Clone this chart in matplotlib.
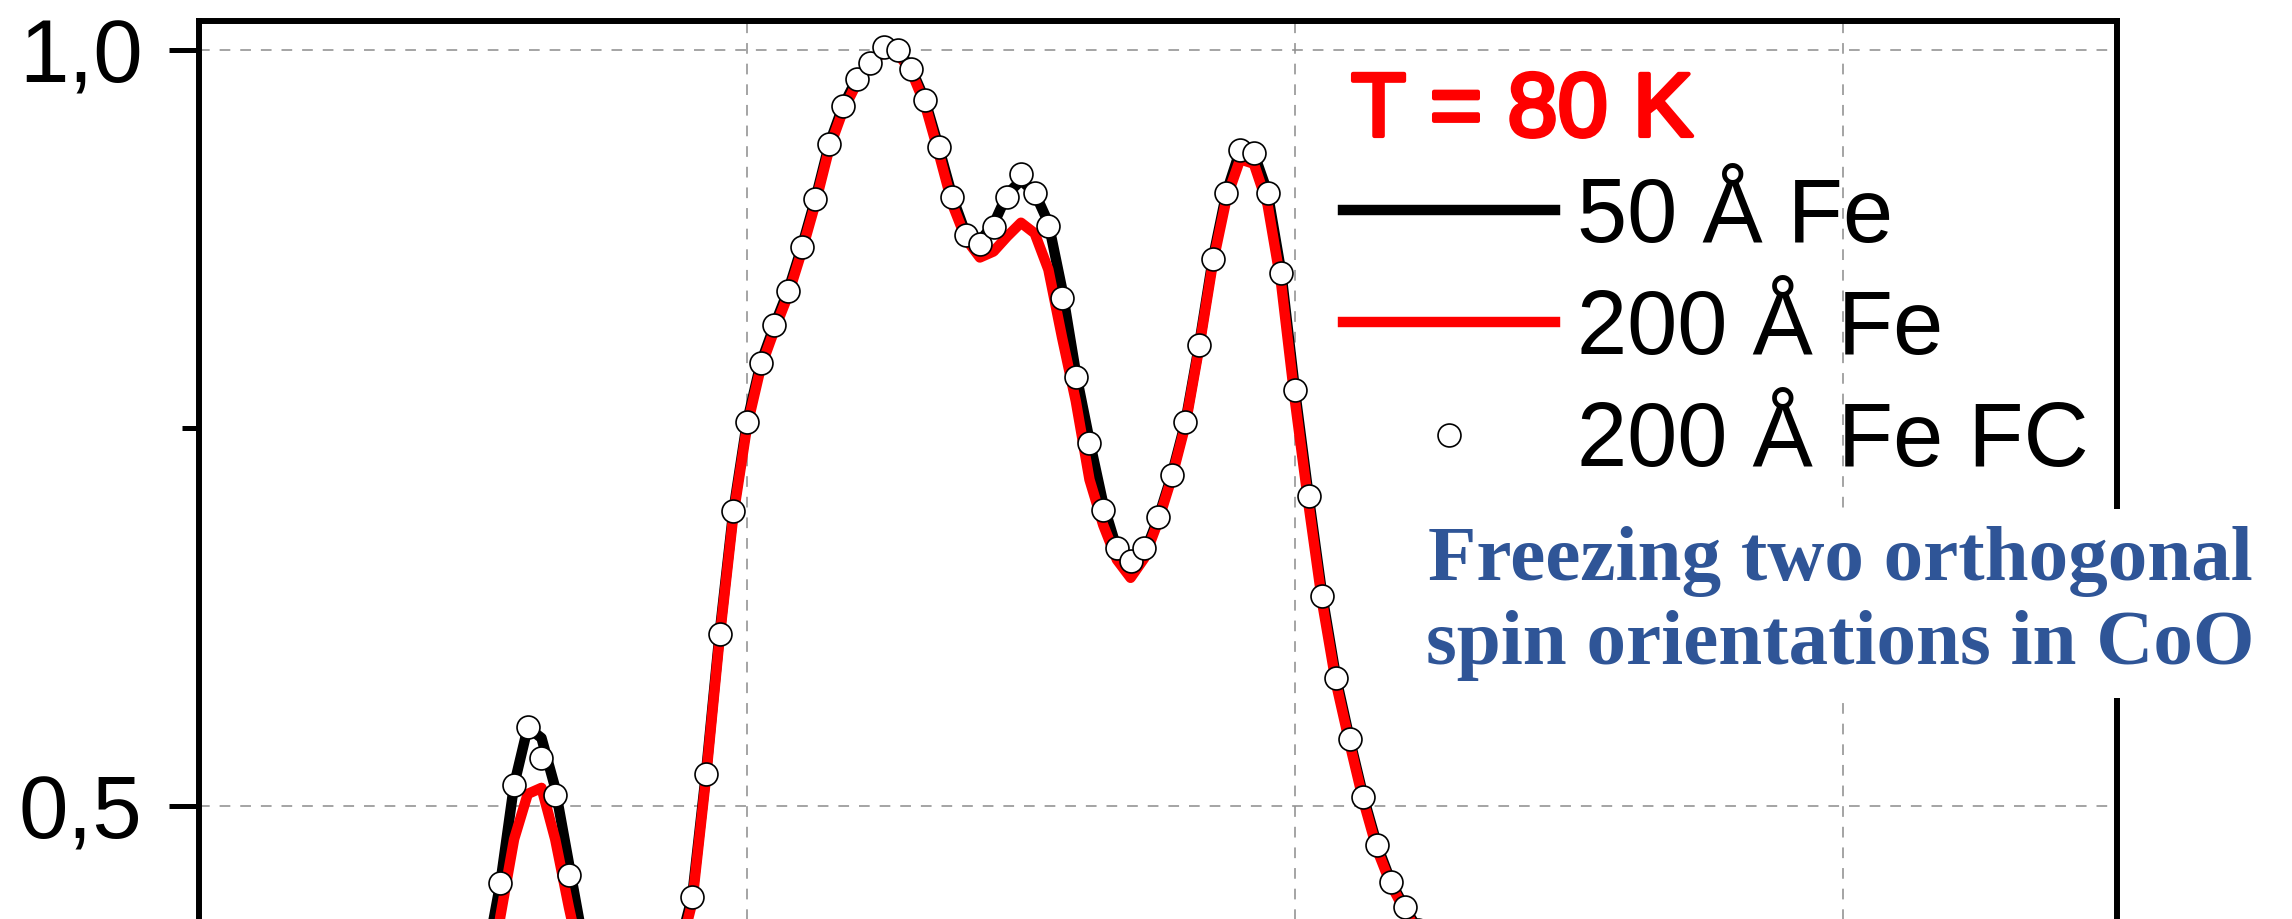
import matplotlib
matplotlib.use('Agg')
import matplotlib.pyplot as plt
import matplotlib.patheffects as pe

plt.rcParams['font.family'] = ['Liberation Sans', 'DejaVu Sans']

# photon energy (eV), 0.05 eV step
energy = [776.00, 776.05, 776.10, 776.15, 776.20, 776.25, 776.30, 776.35, 776.40, 776.45,
          776.50, 776.55, 776.60, 776.65, 776.70, 776.75, 776.80, 776.85, 776.90, 776.95,
          777.00, 777.05, 777.10, 777.15, 777.20, 777.25, 777.30, 777.35, 777.40, 777.45,
          777.50, 777.55, 777.60, 777.65, 777.70, 777.75, 777.80, 777.85, 777.90, 777.95,
          778.00, 778.05, 778.10, 778.15, 778.20, 778.25, 778.30, 778.35, 778.40, 778.45,
          778.50, 778.55, 778.60, 778.65, 778.70, 778.75, 778.80, 778.85, 778.90, 778.95,
          779.00, 779.05, 779.10, 779.15, 779.20, 779.25, 779.30, 779.35, 779.40, 779.45,
          779.50, 779.55]

fe50 = [0.360, 0.400, 0.449, 0.514, 0.552, 0.545, 0.512, 0.462, 0.412, 0.378,
        0.358, 0.348, 0.347, 0.356, 0.377, 0.405, 0.440, 0.521, 0.614, 0.695,
        0.754, 0.793, 0.818, 0.841, 0.870, 0.902, 0.938, 0.963, 0.981, 0.992,
        1.002, 1.000, 0.988, 0.967, 0.936, 0.903, 0.878, 0.874, 0.885, 0.905,
        0.914, 0.906, 0.886, 0.842, 0.787, 0.742, 0.700, 0.670, 0.658, 0.667,
        0.690, 0.719, 0.754, 0.805, 0.862, 0.906, 0.934, 0.932, 0.906, 0.853,
        0.775, 0.705, 0.639, 0.585, 0.544, 0.506, 0.474, 0.450, 0.433, 0.418,
        0.405, 0.394]

fe200 = [0.330, 0.368, 0.427, 0.478, 0.508, 0.512, 0.478, 0.433, 0.392, 0.362,
         0.345, 0.337, 0.338, 0.348, 0.370, 0.400, 0.436, 0.518, 0.611, 0.692,
         0.751, 0.790, 0.815, 0.838, 0.867, 0.899, 0.935, 0.960, 0.978, 0.990,
         1.000, 0.998, 0.986, 0.964, 0.932, 0.898, 0.875, 0.863, 0.867, 0.877,
         0.886, 0.879, 0.855, 0.810, 0.768, 0.716, 0.686, 0.663, 0.651, 0.664,
         0.688, 0.717, 0.752, 0.803, 0.859, 0.902, 0.928, 0.925, 0.898, 0.845,
         0.768, 0.699, 0.634, 0.581, 0.541, 0.503, 0.471, 0.448, 0.431, 0.416,
         0.404, 0.393]

fe200_fc = [0.360, 0.400, 0.449, 0.514, 0.552, 0.532, 0.507, 0.454, 0.410, 0.378,
            0.358, 0.348, 0.347, 0.356, 0.377, 0.405, 0.440, 0.521, 0.614, 0.695,
            0.754, 0.793, 0.818, 0.841, 0.870, 0.902, 0.938, 0.963, 0.981, 0.992,
            1.002, 1.000, 0.988, 0.967, 0.936, 0.903, 0.878, 0.872, 0.883, 0.903,
            0.918, 0.906, 0.884, 0.836, 0.784, 0.740, 0.696, 0.671, 0.662, 0.671,
            0.691, 0.719, 0.754, 0.805, 0.862, 0.906, 0.934, 0.932, 0.906, 0.853,
            0.775, 0.705, 0.639, 0.585, 0.544, 0.506, 0.474, 0.450, 0.433, 0.418,
            0.405, 0.394]

labels = ['50 Å Fe', '200 Å Fe', '200 Å Fe FC']
y_ticks = [0.5, 1.0]
y_ticklabels = ['0,5', '1,0']

fig = plt.figure(figsize=(22.92, 9.19), dpi=100)
# the picture is a crop: axes run below the bottom edge of the figure
ax = fig.add_axes([0.08682, -0.20587, 0.83682, 1.18335])

l1, = ax.plot(energy, fe50, color='black', lw=7.5, zorder=3, label=labels[0])
l2, = ax.plot(energy, fe200, color='red', lw=7.5, zorder=4, label=labels[1])
l3, = ax.plot(energy, fe200_fc, ls='none', marker='o', ms=16.5, mfc='white', mec='black',
              mew=1.2, zorder=5, label=labels[2])

ax.set_xlim(775, 782)
ax.set_ylim(0.30, 1.0197)
ax.set_xticks([777, 779, 781])
ax.set_yticks(y_ticks)
ax.set_yticklabels(y_ticklabels)
ax.set_yticks([0.75], minor=True)

ax.grid(True, which='major', color='#8c8c8c', lw=1.1, linestyle=(0, (7, 6.5)))
ax.set_axisbelow(True)

for s in ax.spines.values():
    s.set_linewidth(4.3)

ax.tick_params(axis='y', which='major', direction='out', length=21.6, width=3.6,
               pad=19, labelsize=64, right=False)
ax.tick_params(axis='y', which='minor', direction='out', length=12, width=3.6, right=False)
ax.tick_params(axis='x', which='both', top=False, bottom=False, labelbottom=False)

fig.text(1351 / 2292, 1 - 136 / 919, 'T = 80 K', color='red', fontsize=65,
         ha='left', va='baseline',
         path_effects=[pe.withStroke(linewidth=3, foreground='red')])

ax.legend(handles=[l1, l2, l3], loc='upper left',
          bbox_to_anchor=(1343 / 2292, 1 - 176 / 919), bbox_transform=fig.transFigure,
          frameon=False, fontsize=65, handlelength=2.35, handletextpad=0.24,
          labelspacing=0.3, borderpad=0, borderaxespad=0, numpoints=1)

fig.text(1840 / 2292, 1 - 664 / 919, 'Freezing two orthogonal\nspin orientations in CoO',
         family='Liberation Serif', fontweight='bold', fontsize=57, color='#2F5597',
         ha='center', va='baseline', multialignment='center', linespacing=1.24,
         bbox=dict(boxstyle='square,pad=0.22', fc='white', ec='none'))

fig.savefig('out.png', dpi=100)
